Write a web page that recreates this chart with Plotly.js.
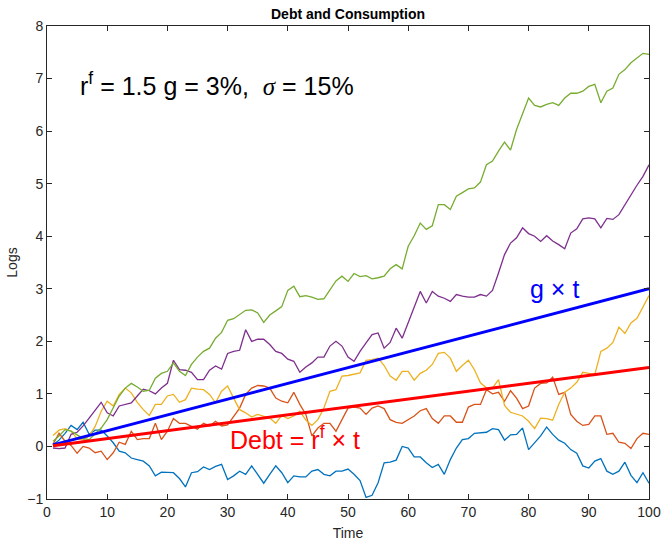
<!DOCTYPE html>
<html>
<head>
<meta charset="utf-8">
<script src="https://cdn.plot.ly/plotly-3.0.1.min.js"></script>
<style>html,body{margin:0;padding:0;background:#fff;}#chart{width:661px;height:541px;}</style>
</head>
<body>
<div id="chart"></div>
<script>
// Time index 1..100
var times = [];
for (var i = 1; i <= 100; i++) times.push(i);

var pathBlue = [0.03,0.12,0.25,0.40,0.32,0.46,0.23,0.31,0.31,0.20,
 0.07,-0.09,-0.12,-0.22,-0.25,-0.28,-0.37,-0.56,-0.49,-0.49,
 -0.50,-0.61,-0.77,-0.50,-0.48,-0.39,-0.44,-0.38,-0.34,-0.63,
 -0.56,-0.47,-0.53,-0.37,-0.53,-0.70,-0.53,-0.37,-0.50,-0.69,
 -0.56,-0.58,-0.58,-0.47,-0.44,-0.53,-0.56,-0.47,-0.47,-0.43,
 -0.53,-0.65,-0.97,-0.93,-0.69,-0.31,-0.30,-0.26,0.00,-0.03,
 -0.20,-0.20,-0.31,-0.40,-0.34,-0.53,-0.25,-0.03,0.13,0.15,
 0.25,0.26,0.27,0.34,0.32,0.12,0.22,0.23,0.35,-0.06,
 0.07,0.20,0.37,0.23,0.12,0.06,-0.06,-0.13,-0.37,-0.41,
 -0.28,-0.23,-0.47,-0.53,-0.47,-0.30,-0.55,-0.69,-0.50,-0.70];

var pathOrange = [0.04,0.25,0.10,0.02,-0.13,0.00,-0.03,-0.12,-0.09,-0.25,
 -0.12,0.08,0.04,0.29,0.13,0.15,0.15,0.44,0.13,0.29,
 0.53,0.44,0.44,0.39,0.33,0.44,0.39,0.48,0.39,0.41,
 0.58,0.73,0.99,1.11,1.16,1.15,1.11,0.92,0.86,0.83,
 1.03,0.80,0.61,0.20,0.35,0.44,0.44,0.29,0.51,0.73,
 0.75,0.73,0.61,0.73,0.77,0.72,0.51,0.46,0.44,0.51,
 0.58,0.68,0.72,0.53,0.44,0.58,0.58,0.46,0.46,0.75,
 0.80,0.80,1.08,1.00,1.03,0.86,1.06,0.92,0.72,0.77,
 1.11,1.20,1.21,1.32,0.99,1.03,0.61,0.48,0.40,0.42,
 0.58,0.58,0.23,0.25,0.08,0.06,-0.04,0.15,0.25,0.23];

var pathYellow = [0.21,0.31,0.34,0.29,0.15,0.12,0.20,0.38,0.67,0.86,
 0.77,0.99,1.11,1.02,0.84,0.70,0.59,0.80,0.80,0.96,
 0.99,0.84,0.89,1.11,1.09,1.08,0.99,0.83,1.05,1.15,
 0.92,0.70,0.64,0.56,0.61,0.58,0.54,0.44,0.59,0.53,
 0.58,0.67,0.50,0.40,0.51,0.73,1.05,1.08,1.34,1.35,
 1.38,1.40,1.64,1.65,1.68,1.54,1.34,1.26,1.43,1.43,
 1.26,1.39,1.45,1.56,1.77,1.79,1.68,1.43,1.54,1.64,
 1.46,1.21,1.11,1.11,1.27,0.78,0.65,0.61,0.58,0.48,
 0.34,0.54,0.53,0.50,0.80,1.03,1.11,1.22,1.41,1.39,
 1.37,1.81,1.87,1.98,2.27,2.15,2.35,2.44,2.66,2.87];

var pathPurple = [-0.03,-0.04,-0.03,0.23,0.27,0.39,0.54,0.70,0.84,0.64,
 0.58,0.77,0.80,0.83,0.96,1.09,1.06,1.00,1.11,1.20,
 1.64,1.46,1.45,1.41,1.27,1.27,1.45,1.53,1.47,1.77,
 1.81,1.83,2.22,2.00,2.04,2.04,1.94,1.81,1.77,1.66,
 1.62,1.41,1.51,1.59,1.70,1.70,1.91,2.00,1.91,1.70,
 1.62,1.81,1.97,2.13,2.16,1.87,1.98,2.25,2.06,2.36,
 2.63,2.95,2.73,2.95,2.86,2.82,2.76,2.89,2.86,2.84,
 2.84,2.89,2.86,2.97,3.30,3.65,3.87,3.97,4.16,4.05,
 4.00,3.90,4.01,3.91,3.84,3.76,4.06,4.14,4.33,4.35,
 4.33,4.16,4.34,4.32,4.41,4.60,4.79,4.97,5.14,5.36];

var pathGreen = [0.10,0.20,0.32,0.29,0.22,0.15,0.13,0.25,0.35,0.51,
 0.73,0.96,1.11,1.20,1.13,1.05,1.07,1.30,1.39,1.43,
 1.59,1.43,1.35,1.56,1.70,1.81,1.87,2.06,2.17,2.40,
 2.43,2.51,2.59,2.60,2.54,2.36,2.50,2.58,2.66,2.97,
 3.05,2.85,2.87,2.84,2.80,2.81,2.99,3.15,3.24,3.14,
 3.29,3.23,3.25,3.19,3.21,3.24,3.38,3.46,3.38,3.81,
 4.01,4.25,4.13,4.20,4.60,4.60,4.51,4.76,4.83,4.90,
 4.92,5.03,5.36,5.43,5.62,5.79,5.64,6.03,6.33,6.63,
 6.49,6.46,6.51,6.54,6.49,6.63,6.72,6.72,6.76,6.85,
 6.89,6.54,6.76,6.82,7.08,7.17,7.30,7.39,7.48,7.46];

// straight reference lines (end points)
var lineTimes = [1, 100];
var growthLine = [0.03, 3.0];
var debtLine = [0.015, 1.5];

var xTicks = [0,10,20,30,40,50,60,70,80,90,100];
var yTicks = [-1,0,1,2,3,4,5,6,7,8];

var paths = [
  {y: pathBlue, c: '#0072BD'},
  {y: pathOrange, c: '#D95319'},
  {y: pathYellow, c: '#EDB120'},
  {y: pathPurple, c: '#7E2F8E'},
  {y: pathGreen, c: '#77AC30'}
];

var traces = paths.map(function(p){
  return {x: times, y: p.y, type: 'scatter', mode: 'lines',
          line: {color: p.c, width: 1.3}, hoverinfo: 'skip'};
});
traces.push({x: lineTimes, y: growthLine, type: 'scatter', mode: 'lines',
             line: {color: '#0000FF', width: 3}});
traces.push({x: lineTimes, y: debtLine, type: 'scatter', mode: 'lines',
             line: {color: '#FF0000', width: 3}});

var FONT = 'Liberation Sans, Arial, sans-serif';
var SIG = '<span style="font-family:Liberation Serif, serif"><i>σ</i></span>';

var axisCommon = {
  showgrid: false, zeroline: false, showline: true, mirror: 'ticks',
  linecolor: '#262626', linewidth: 1, ticks: 'inside', ticklen: 5,
  tickcolor: '#262626', tickfont: {family: FONT, size: 14, color: '#262626'}
};

var layout = {
  width: 661, height: 541,
  margin: {l: 47, r: 12, t: 26, b: 42},
  paper_bgcolor: '#ffffff', plot_bgcolor: '#ffffff',
  showlegend: false,
  font: {family: FONT, color: '#262626'},
  title: {text: '<b>Debt and Consumption</b>', x: 0.5, xref: 'paper',
          y: 1 - 14/541, yref: 'container', yanchor: 'middle',
          font: {size: 14, color: '#000000', family: FONT}},
  xaxis: Object.assign({}, axisCommon, {
    range: [0, 100], tickvals: xTicks,
    title: {text: 'Time', standoff: 10, font: {size: 14, color: '#262626'}}
  }),
  yaxis: Object.assign({}, axisCommon, {
    range: [-1, 8], tickvals: yTicks,
    title: {text: 'Logs', standoff: 6, font: {size: 14, color: '#262626'}}
  }),
  annotations: [
    {x: 5.1, y: 6.9, xref: 'x', yref: 'y', xanchor: 'left', yanchor: 'middle', showarrow: false,
     text: 'r<sup>f</sup> = 1.5 g = 3%,  ' + SIG + ' = 15%',
     font: {size: 25, color: '#000000', family: FONT}},
    {x: 79.9, y: 3.0, xref: 'x', yref: 'y', xanchor: 'left', yanchor: 'middle', showarrow: false,
     text: 'g\u00a0×\u00a0t',
     font: {size: 25, color: '#0000FF', family: FONT}},
    {x: 30.1, y: 0.16, xref: 'x', yref: 'y', xanchor: 'left', yanchor: 'middle', showarrow: false,
     text: 'Debt = r<sup>f</sup>\u00a0×\u00a0t',
     font: {size: 25, color: '#FF0000', family: FONT}}
  ]
};

Plotly.newPlot('chart', traces, layout, {displayModeBar: false, staticPlot: true});
</script>
</body>
</html>
